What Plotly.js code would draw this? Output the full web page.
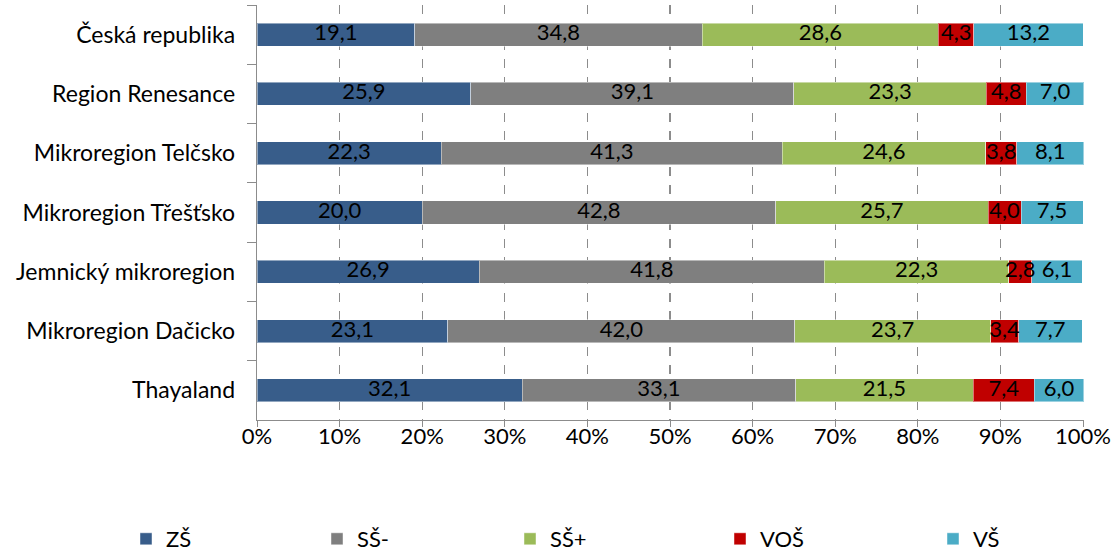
<!DOCTYPE html>
<html>
<head>
<meta charset="utf-8">
<script src="https://cdn.plot.ly/plotly-3.0.1.min.js"></script>
<style>html,body{margin:0;padding:0;background:#fff;}#chart{width:1117px;height:552px;}</style>
</head>
<body>
<div id="chart"></div>
<script>
const categories = ["Česká republika","Region Renesance","Mikroregion Telčsko","Mikroregion Třešťsko","Jemnický mikroregion","Mikroregion Dačicko","Thayaland"];
const seriesNames = ["ZŠ","SŠ-","SŠ+","VOŠ","VŠ"];
const ZS   = [19.1, 25.9, 22.3, 20.0, 26.9, 23.1, 32.1];
const SSm  = [34.8, 39.1, 41.3, 42.8, 41.8, 42.0, 33.1];
const SSp  = [28.6, 23.3, 24.6, 25.7, 22.3, 23.7, 21.5];
const VOS  = [4.3, 4.8, 3.8, 4.0, 2.8, 3.4, 7.4];
const VS   = [13.2, 7.0, 8.1, 7.5, 6.1, 7.7, 6.0];
const xTickVals = [0,10,20,30,40,50,60,70,80,90,100];
const xTickText = ["0%","10%","20%","30%","40%","50%","60%","70%","80%","90%","100%"];
const colors = ["#385D8A","#7F7F7F","#9BBB59","#C00000","#4BACC6"];

const font = "Lato, 'Open Sans', sans-serif";
const values = [ZS, SSm, SSp, VOS, VS];
const legendIds = ['legend','legend2','legend3','legend4','legend5'];
const legendCenters = [146, 337, 530, 740, 953];

const traces = values.map((v,i)=>({
  type:'bar', orientation:'h', name: seriesNames[i],
  y: categories, x: v,
  legend: legendIds[i],
  marker:{color: colors[i], line:{color:'rgba(255,255,255,0.45)', width:1}},
  hoverinfo:'skip', width:0.39
}));

// value labels drawn on top of all bars, centred in each segment (built from the data)
const lx = [], ly = [], lt = [];
categories.forEach((c,j)=>{
  let base = 0;
  values.forEach(v=>{
    lx.push(base + v[j]/2); ly.push(c); lt.push(v[j].toFixed(1).replace('.', ','));
    base += v[j];
  });
});
traces.push({type:'scatter', mode:'text', x:lx, y:ly, text:lt, textposition:'middle center',
  textfont:{family:font, size:22, color:'#000'}, showlegend:false, hoverinfo:'skip', cliponaxis:false});

const layout = {
  width:1117, height:552,
  margin:{l:257, r:33, t:5, b:132},
  barmode:'stack',
  paper_bgcolor:'#fff', plot_bgcolor:'#fff',
  font:{family:font, size:22, color:'#000'},
  xaxis:{range:[0,100.12], tickmode:'array', tickvals:xTickVals, ticktext:xTickText, showgrid:true,
    gridcolor:'#8c8c8c', griddash:'dash', gridwidth:1.3,
    showline:true, linecolor:'#8c8c8c', linewidth:1.3, ticks:'outside', ticklen:6, tickcolor:'#8c8c8c',
    zeroline:false, tickfont:{family:font,size:22}, ticklabelstandoff:-10, fixedrange:true},
  yaxis:{autorange:'reversed', type:'category', showline:true, linecolor:'#8c8c8c', linewidth:1.3,
    ticks:'outside', ticklen:9, tickcolor:'#8c8c8c', tickson:'boundaries', showgrid:false,
    tickfont:{family:font,size:23}, ticklabelstandoff:16, fixedrange:true},
  showlegend:true,
};
legendIds.forEach((id,i)=>{
  layout[id] = {orientation:'h', xref:'container', yref:'container',
    x:(legendCenters[i]-20)/1117, y:1-539/552, xanchor:'left', yanchor:'middle',
    itemwidth:30, font:{family:font,size:22}, bgcolor:'rgba(0,0,0,0)'};
});
Plotly.newPlot('chart', traces, layout, {staticPlot:true, displayModeBar:false});
</script>
</body>
</html>
